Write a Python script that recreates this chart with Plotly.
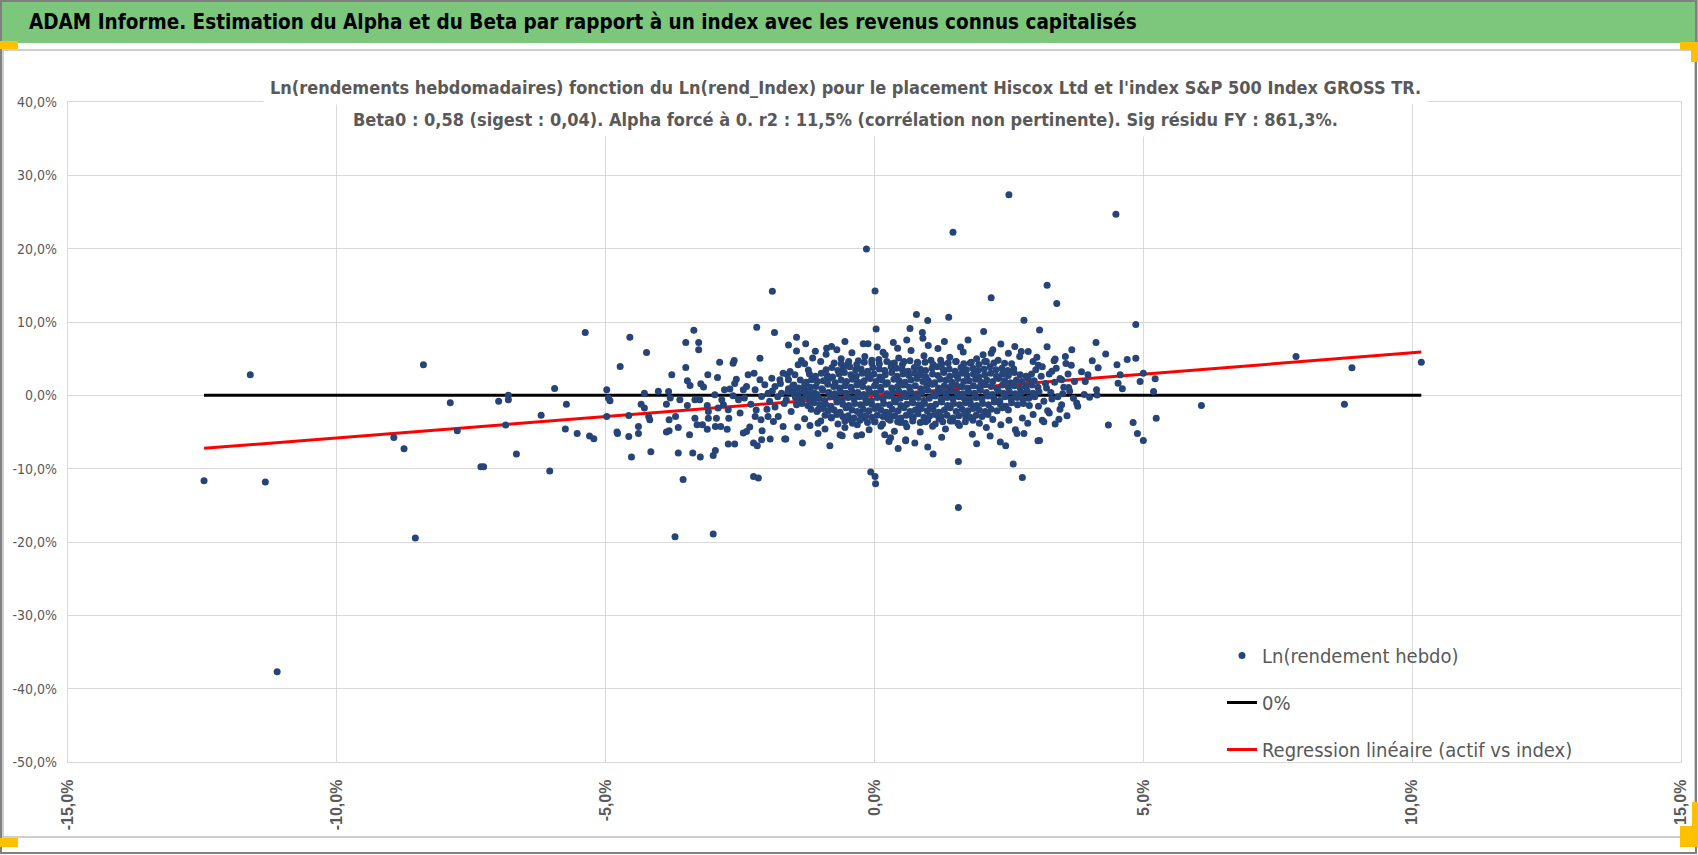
import plotly.graph_objects as go

# Hiscox Ltd vs S&P 500 Index GROSS TR : weekly log returns in %
# isolated points, (index %, asset %)
tail_pts = [
    (-12.47, -11.65), (-11.61, 2.79), (-11.33, -11.83), (-11.11, -37.7),
    (-8.94, -5.75), (-8.75, -7.29), (-8.54, -19.46), (-8.39, 4.16),
    (-7.89, -1.02), (-7.76, -4.84), (-7.32, -9.74), (-7.27, -9.74),
    (-6.99, -0.79), (-6.81, 0.0), (-6.81, -0.6), (-6.86, -4.06), (-6.66, -8.01),
    (-6.2, -2.7), (-6.04, -10.33), (-5.95, 0.93), (-5.73, -1.2), (-5.75, -4.6),
    (-5.53, -5.2), (-5.3, -5.56), (-5.22, -5.93), (-5.38, 8.56),
    (-3.71, -19.28), (-3.0, -18.91), (-3.56, -11.47), (-2.25, -11.06), (-2.16, -11.28),
    (-0.15, 19.96), (0.01, 14.24), (-1.9, 14.2), (1.46, 22.23), (2.5, 27.36), (4.49, 24.69),
    (3.21, 15.01), (3.39, 12.51), (2.17, 13.32), (4.86, 9.65),
    (-0.07, -10.46), (0.01, -11.06), (0.02, -12.06), (1.56, -9.02), (1.56, -15.29),
    (2.58, -9.37), (2.75, -11.2),
    (7.84, 5.29), (6.08, -1.39), (8.88, 3.75), (8.74, -1.2), (10.17, 4.52),
    (5.24, -3.11), (4.81, -3.7), (4.89, -5.2), (5.0, -6.16), (4.35, -4.06),
]

# scattered points around the cloud
mid_pts = [
    (-4.98, 0.75), (-4.95, -0.38), (-4.92, -0.75), (-4.98, -2.89), (-4.73, 3.92),
    (-4.55, 7.93), (-4.79, -5.01), (-4.78, -5.2), (-4.57, -2.75), (-4.57, -5.61),
    (-4.52, -8.42), (-4.39, -4.25), (-4.39, -5.2), (-4.34, -1.2), (-4.28, -1.74),
    (-4.28, 0.3), (-4.24, 5.83), (-4.2, -2.89), (-4.18, -3.34), (-4.16, -7.7),
    (-4.02, 0.57), (-3.87, -1.2), (-3.83, 0.52), (-3.8, -0.38), (-3.82, -3.34),
    (-3.7, -2.89), (-3.65, -4.39), (-3.87, -5.01), (-3.82, -4.84), (-3.65, -7.88),
    (-3.77, 2.79), (-3.51, 7.2), (-3.36, 8.88), (-3.27, 7.2), (-3.27, 6.2),
    (-3.51, 3.79), (-3.48, 1.98), (-3.43, 1.34), (-3.62, -0.61), (-3.48, -1.39),
    (-3.34, -0.61), (-3.44, -5.38), (-3.38, -7.88), (-3.24, -8.42), (-3.34, -3.11),
    (-3.3, -4.02), (-3.2, -4.02), (-3.23, 1.57), (-3.18, 1.12), (-3.1, 2.79),
    (-3.25, -0.61), (-3.11, -1.39), (-3.09, -2.21), (-3.09, -3.11), (-3.11, -4.61),
    (-3.0, -8.2), (-2.96, -7.52), (-2.97, 0.07), (-2.92, 2.43), (-2.88, 4.52),
    (-2.94, -3.11), (-2.96, -4.25), (-2.86, -4.25), (-2.74, -4.61), (-2.71, -3.11),
    (-2.72, -6.65), (-2.6, -6.65), (-2.63, 4.38), (-2.61, 4.74), (-2.57, 2.2),
    (-2.79, 0.75), (-2.69, 0.88), (-2.63, -0.07), (-2.53, -0.61), (-2.42, -0.38),
    (-2.44, 0.75), (-2.38, 1.2), (-2.91, -1.74), (-2.81, -1.29), (-2.72, -1.97),
    (-2.84, -0.61), (-2.35, 2.79), (-2.24, 3.02), (-2.13, 5.07), (-2.19, 9.29),
    (-1.86, 8.56), (-2.44, -5.15), (-2.38, -4.93), (-2.32, -4.33), (-2.25, -6.51),
    (-2.18, -6.88), (-2.1, -6.06), (-1.94, -5.97), (-2.09, -4.84), (-2.22, -2.89),
    (-2.11, -3.34), (-1.98, -2.89), (-1.88, -3.57), (-1.79, -2.89), (-1.7, -4.25),
    (-1.65, -5.97), (-1.43, -4.33), (-1.34, -6.51), (-1.7, 3.02), (-1.6, 6.88),
    (-1.45, 7.93), (-1.45, 6.06), (-1.28, 7.02), (-1.36, 4.74), (-1.57, 3.24),
    (-1.42, 4.16), (-2.22, 0.75), (-2.1, -0.16), (-1.98, 0.3), (-1.85, 1.2),
    (-1.73, 0.3), (-1.64, -0.61), (-1.51, 0.75), (-1.42, -0.16), (-1.3, 0.75),
    (-1.2, -0.61), (-1.11, 0.3), (-1.05, -1.97), (-1.17, 2.11), (-1.23, 3.47),
    (-2.13, 2.11), (-2.04, 1.43), (-1.91, 2.34), (-1.76, 2.11), (-1.6, 2.11),
    (-1.48, 2.79), (-1.05, -3.79), (-1.67, -5.97),
    (0.78, 11.01), (0.99, 10.19), (1.38, 10.65), (2.78, 10.24), (3.07, 8.92),
    (0.03, 9.06), (0.66, 9.1), (0.89, 8.56), (0.9, 7.79), (2.03, 8.7),
    (1.3, 7.33), (1.74, 7.56), (0.6, 7.56), (-0.55, 7.33), (-0.21, 7.02),
    (-0.12, 7.02), (-0.89, 6.43), (-0.8, 6.65), (0.16, 5.88), (0.43, 6.43),
    (2.61, 6.65), (2.73, 5.97), (2.86, 5.97), (2.49, 5.75), (2.42, 4.38),
    (2.17, 5.75), (2.02, 5.52), (1.09, -8.01), (0.99, -7.06), (0.44, -7.24),
    (0.58, -6.2), (2.15, -5.56), (2.34, -6.38), (2.44, -6.88), (2.65, -5.2),
    (2.78, -5.2), (3.04, -6.2), (-0.83, -6.88), (-0.64, -5.38), (-0.33, -5.52),
    (-0.24, -5.38), (4.12, 7.2), (3.67, 6.2), (3.21, 6.61), (4.3, 5.65),
    (4.05, 4.7), (4.16, 3.75), (4.51, 4.16), (4.7, 4.88), (4.86, 5.07),
    (3.56, 4.33), (3.36, 4.97), (3.34, 4.7), (3.97, 2.79), (3.92, 1.88),
    (4.13, 0.75), (4.14, 0.03), (4.0, -0.25), (3.76, -1.06), (4.57, 2.79),
    (4.53, 1.66), (4.61, 0.89), (4.94, 1.88), (5.0, 3.02), (5.19, 0.52),
    (5.22, 2.25), (3.61, 1.07), (3.48, 2.11), (3.43, -3.25), (3.07, -6.16),
    (0.58, -6.06), (0.27, -6.3), (0.19, -5.38),
]

# edge of the dense cloud
halo_pts = [
    (-1.3, 4.3), (-1.15, 5.1), (-1.0, 4.6), (-0.9, 5.6), (-0.75, 4.4), (-0.62, 5.0),
    (-0.5, 4.2), (-0.42, 5.8), (-0.3, 4.7), (-0.18, 5.3), (-0.05, 4.4), (0.08, 4.9),
    (0.2, 5.5), (0.31, 4.3), (0.45, 5.1), (0.55, 4.6), (0.68, 6.1), (0.8, 4.5),
    (0.92, 5.4), (1.05, 4.8), (1.18, 6.4), (1.25, 4.3), (1.4, 5.2), (1.52, 4.6),
    (1.65, 5.9), (1.78, 4.4), (1.9, 5.0), (2.05, 4.6), (2.2, 6.2), (2.3, 4.8),
    (2.55, 4.3), (2.7, 5.3), (2.95, 4.6), (-0.7, 6.2), (0.05, 6.6), (1.0, 6.8),
    (1.6, 6.6), (-1.1, 6.0), (0.35, 7.2), (2.35, 7.0),
    (-1.3, -3.2), (-1.2, -4.1), (-1.0, -3.5), (-0.92, -4.6), (-0.8, -3.1), (-0.68, -3.9),
    (-0.55, -4.4), (-0.45, -3.3), (-0.32, -4.0), (-0.2, -3.1), (-0.1, -4.7), (0.0, -3.6),
    (0.12, -4.2), (0.25, -3.2), (0.37, -4.9), (0.48, -3.7), (0.6, -4.3), (0.72, -3.1),
    (0.85, -5.0), (0.95, -3.6), (1.08, -4.2), (1.2, -3.2), (1.32, -4.6), (1.45, -3.5),
    (1.58, -4.1), (1.7, -3.1), (1.82, -5.3), (1.95, -3.8), (2.08, -4.4), (2.2, -3.3),
    (2.35, -4.0), (2.5, -3.4), (2.62, -4.7), (2.75, -3.1), (-0.6, -5.5), (0.3, -5.8),
    (1.25, -5.7), (-1.05, -5.2), (0.75, -6.5), (1.9, -6.6),
    (3.0, 3.5), (3.1, 2.6), (3.2, 1.0), (3.05, -1.5), (3.3, -0.5), (2.95, -2.6),
    (3.15, -3.6), (3.35, 1.8), (3.05, 4.1), (2.85, -3.8), (3.3, 3.3), (3.5, 0.2),
    (3.45, -1.9), (3.6, 2.9), (3.25, -2.4), (3.7, -0.4),
    (-1.95, -0.8), (-1.85, -1.6), (-1.75, 1.6), (-1.68, -1.1), (-1.6, 0.9), (-1.55, -2.2),
    (-1.5, 1.4), (-1.45, -1.3), (-1.9, 0.6), (-2.0, -1.9), (-1.8, -0.2), (-1.62, 2.8),
    (-2.3, -1.2), (-2.5, -2.4), (-2.6, 1.6), (-2.2, -2.0),
    (3.12, 3.9), (3.25, 2.9), (3.18, 1.6), (3.28, 0.4), (3.15, -0.8), (3.22, -2.1),
    (3.38, 3.7), (3.45, 2.3), (3.52, 1.1), (3.41, -0.2), (3.48, -1.3), (3.58, -2.8),
    (3.66, 4.1), (3.72, 1.9), (3.63, 0.6), (3.78, -1.5), (3.85, 3.2), (3.9, 0.1),
    (3.12, -3.4), (3.36, -3.9), (3.02, 5.2), (3.55, 5.3),
]

# dense core, band by band from top to bottom
core_j_x = [-0.62, -0.48, -0.33, -0.19, -0.05, 0.09, 0.23, 0.37, 0.52, 0.66, 0.80, 0.94, 1.09,
            1.23, 1.37, 1.51, 1.66, 1.80, 1.94, 2.08, 2.22]
core_j_y = [4.3, 4.6, 4.2, 4.5, 4.8, 4.3, 4.6, 4.4, 4.2, 4.7, 4.4, 4.5, 4.2, 4.8, 4.4, 4.6, 4.3,
            4.5, 4.2, 4.6, 4.4]
core_a_x = [-0.90, -0.79, -0.68, -0.58, -0.46, -0.35, -0.25, -0.13, -0.03, 0.09, 0.19, 0.31, 0.41,
            0.52, 0.63, 0.74, 0.85, 0.95, 1.07, 1.17, 1.28, 1.39, 1.50, 1.61, 1.71, 1.83, 1.93,
            2.04, 2.15, 2.26, 2.37, 2.48, 2.59]
core_a_y = [3.5, 3.8, 3.4, 3.7, 3.9, 3.5, 3.6, 3.3, 3.8, 3.6, 3.4, 3.9, 3.7, 3.5, 3.3, 3.8, 3.6,
            3.4, 3.7, 3.9, 3.5, 3.6, 3.3, 3.8, 3.5, 3.7, 3.4, 3.6, 3.9, 3.5, 3.7, 3.4, 3.6]
core_b_x = [-1.21, -1.10, -0.99, -0.88, -0.78, -0.66, -0.56, -0.44, -0.34, -0.23, -0.12, -0.01,
            0.10, 0.20, 0.32, 0.42, 0.53, 0.64, 0.75, 0.86, 0.96, 1.08, 1.18, 1.29, 1.40, 1.51,
            1.62, 1.72, 1.84, 1.94, 2.05, 2.16, 2.27, 2.38, 2.49, 2.60, 2.71, 2.82, 2.92]
core_b_y = [2.9, 2.6, 3.0, 2.7, 2.5, 2.9, 3.1, 2.8, 2.6, 3.0, 2.7, 2.9, 2.5, 2.8, 3.1, 2.6, 2.9,
            2.7, 3.0, 2.8, 2.5, 2.9, 2.7, 3.1, 2.6, 2.8, 3.0, 2.7, 2.9, 2.5, 2.8, 3.0, 2.6, 2.9,
            2.7, 3.1, 2.8, 2.6, 2.9]
core_c_x = [-1.38, -1.27, -1.16, -1.06, -0.95, -0.84, -0.73, -0.62, -0.52, -0.41, -0.30, -0.19,
            -0.08, 0.03, 0.14, 0.24, 0.36, 0.46, 0.57, 0.68, 0.79, 0.90, 1.00, 1.12, 1.22, 1.33,
            1.44, 1.55, 1.66, 1.76, 1.88, 1.98, 2.09, 2.20, 2.31, 2.42, 2.53, 2.64, 2.74, 2.86, 2.97]
core_c_y = [2.1, 1.8, 2.2, 1.9, 2.0, 2.3, 1.7, 2.1, 1.9, 2.2, 1.8, 2.0, 2.3, 1.9, 2.1, 1.7, 2.2,
            2.0, 1.8, 2.1, 2.3, 1.9, 2.0, 1.7, 2.2, 2.1, 1.8, 2.3, 1.9, 2.0, 2.2, 1.8, 2.1, 1.9,
            2.3, 2.0, 1.7, 2.1, 1.9, 2.2, 2.0]
core_d_x = [-1.52, -1.41, -1.30, -1.19, -1.09, -0.98, -0.87, -0.76, -0.65, -0.55, -0.44, -0.33,
            -0.22, -0.11, 0.00, 0.11, 0.21, 0.32, 0.43, 0.54, 0.65, 0.76, 0.86, 0.97, 1.08, 1.19,
            1.30, 1.41, 1.52, 1.62, 1.73, 1.84, 1.95, 2.06, 2.17, 2.28, 2.38, 2.49, 2.60, 2.71,
            2.82, 2.93, 3.04]
core_d_y = [1.3, 1.0, 1.4, 1.1, 1.2, 0.9, 1.5, 1.2, 1.0, 1.3, 1.1, 1.4, 1.2, 0.9, 1.3, 1.1, 1.5,
            1.0, 1.2, 1.4, 1.1, 1.3, 0.9, 1.2, 1.5, 1.0, 1.3, 1.1, 1.4, 1.2, 1.0, 1.3, 1.1, 1.5,
            1.2, 0.9, 1.4, 1.1, 1.3, 1.0, 1.2, 1.4, 1.1]
core_e_x = [-1.61, -1.50, -1.39, -1.28, -1.18, -1.07, -0.96, -0.85, -0.74, -0.63, -0.53, -0.42,
            -0.31, -0.20, -0.09, 0.02, 0.12, 0.23, 0.34, 0.45, 0.56, 0.67, 0.77, 0.88, 0.99, 1.10,
            1.21, 1.32, 1.43, 1.53, 1.64, 1.75, 1.86, 1.97, 2.08, 2.19, 2.30, 2.40, 2.51, 2.62,
            2.73, 2.84, 2.95, 3.06]
core_e_y = [0.5, 0.2, 0.6, 0.3, 0.4, 0.1, 0.7, 0.4, 0.2, 0.5, 0.3, 0.6, 0.4, 0.1, 0.5, 0.3, 0.7,
            0.2, 0.4, 0.6, 0.3, 0.5, 0.1, 0.4, 0.7, 0.2, 0.5, 0.3, 0.6, 0.4, 0.2, 0.5, 0.3, 0.7,
            0.4, 0.1, 0.6, 0.3, 0.5, 0.2, 0.4, 0.6, 0.3, 0.5]
core_f_x = [-1.47, -1.36, -1.25, -1.14, -1.03, -0.93, -0.82, -0.71, -0.60, -0.49, -0.38, -0.28,
            -0.17, -0.06, 0.05, 0.16, 0.27, 0.37, 0.48, 0.59, 0.70, 0.81, 0.92, 1.02, 1.13, 1.24,
            1.35, 1.46, 1.57, 1.67, 1.78, 1.89, 2.00, 2.11, 2.22, 2.33, 2.43, 2.54, 2.65, 2.76,
            2.87, 2.98]
core_f_y = [-0.3, -0.6, -0.2, -0.5, -0.4, -0.7, -0.1, -0.4, -0.6, -0.3, -0.5, -0.2, -0.4, -0.7,
            -0.3, -0.5, -0.1, -0.6, -0.4, -0.2, -0.5, -0.3, -0.7, -0.4, -0.1, -0.6, -0.3, -0.5,
            -0.2, -0.4, -0.6, -0.3, -0.5, -0.1, -0.4, -0.7, -0.2, -0.5, -0.3, -0.6, -0.4, -0.2]
core_g_x = [-1.35, -1.24, -1.13, -1.02, -0.91, -0.81, -0.70, -0.59, -0.48, -0.37, -0.26, -0.16,
            -0.05, 0.06, 0.17, 0.28, 0.39, 0.49, 0.60, 0.71, 0.82, 0.93, 1.04, 1.14, 1.25, 1.36,
            1.47, 1.58, 1.69, 1.79, 1.90, 2.01, 2.12, 2.23, 2.34, 2.44, 2.55, 2.66, 2.77, 2.88]
core_g_y = [-1.1, -1.4, -1.0, -1.3, -1.2, -1.5, -0.9, -1.2, -1.4, -1.1, -1.3, -1.0, -1.2, -1.5,
            -1.1, -1.3, -0.9, -1.4, -1.2, -1.0, -1.3, -1.1, -1.5, -1.2, -0.9, -1.4, -1.1, -1.3,
            -1.0, -1.2, -1.4, -1.1, -1.3, -0.9, -1.2, -1.5, -1.0, -1.3, -1.1, -1.4]
core_h_x = [-1.18, -1.07, -0.96, -0.86, -0.75, -0.64, -0.53, -0.42, -0.32, -0.21, -0.10, 0.01,
            0.12, 0.22, 0.33, 0.44, 0.55, 0.66, 0.76, 0.87, 0.98, 1.09, 1.20, 1.30, 1.41, 1.52,
            1.63, 1.74, 1.84, 1.95, 2.06, 2.17, 2.28, 2.38, 2.49]
core_h_y = [-1.9, -2.2, -1.8, -2.1, -2.0, -2.3, -1.7, -2.0, -2.2, -1.9, -2.1, -1.8, -2.0, -2.3,
            -1.9, -2.1, -1.7, -2.2, -2.0, -1.8, -2.1, -1.9, -2.3, -2.0, -1.7, -2.2, -1.9, -2.1,
            -1.8, -2.0, -2.2, -1.9, -2.1, -1.7, -2.0]
core_i_x = [-0.92, -0.81, -0.70, -0.59, -0.49, -0.38, -0.27, -0.16, -0.05, 0.05, 0.16, 0.27,
            0.38, 0.49, 0.59, 0.70, 0.81, 0.92, 1.03, 1.13, 1.24, 1.35, 1.46, 1.57, 1.68, 1.78,
            1.89, 2.00, 2.11]
core_i_y = [-2.7, -3.0, -2.6, -2.9, -2.8, -3.1, -2.5, -2.8, -3.0, -2.7, -2.9, -2.6, -2.8, -3.1,
            -2.7, -2.9, -2.5, -3.0, -2.8, -2.6, -2.9, -2.7, -3.1, -2.8, -2.5, -3.0, -2.7, -2.9, -2.6]
core_k_x = [-0.55, -0.41, -0.27, -0.13, 0.01, 0.15, 0.29, 0.43, 0.57, 0.71, 0.85, 0.99, 1.13,
            1.27, 1.41, 1.55, 1.69, 1.83]
core_k_y = [-3.5, -3.8, -3.4, -3.7, -3.6, -3.9, -3.4, -3.6, -3.8, -3.5, -3.7, -3.4, -3.9, -3.6,
            -3.5, -3.8, -3.6, -3.4]

beta0 = 0.58  # alpha forced to 0

x_ticks = [-15, -10, -5, 0, 5, 10, 15]
x_tick_labels = ["-15,0%", "-10,0%", "-5,0%", "0,0%", "5,0%", "10,0%", "15,0%"]
y_ticks = [-50, -40, -30, -20, -10, 0, 10, 20, 30, 40]
y_tick_labels = ["-50,0%", "-40,0%", "-30,0%", "-20,0%", "-10,0%", "0,0%",
                 "10,0%", "20,0%", "30,0%", "40,0%"]

# ---- assemble
index_ret = [p[0] for p in tail_pts + mid_pts + halo_pts]
asset_ret = [p[1] for p in tail_pts + mid_pts + halo_pts]
for cx, cy in [(core_j_x, core_j_y), (core_a_x, core_a_y), (core_b_x, core_b_y),
               (core_c_x, core_c_y), (core_d_x, core_d_y), (core_e_x, core_e_y),
               (core_f_x, core_f_y), (core_g_x, core_g_y), (core_h_x, core_h_y),
               (core_i_x, core_i_y), (core_k_x, core_k_y)]:
    n = min(len(cx), len(cy))
    index_ret += cx[:n]
    asset_ret += cy[:n]

line_x = [min(index_ret), max(index_ret)]
reg_y = [beta0 * v for v in line_x]

W, H = 1698, 855
ML, MR, MT, MB = 68, 17, 102, 93
PW, PH = W - ML - MR, H - MT - MB


def px_x(px):
    return (px - ML) / PW


def px_y(py):
    return (H - MB - py) / PH


NARROW = "Liberation Sans Narrow, DejaVu Sans Condensed, Arial Narrow, sans-serif"
GREY = "#595959"
GRID = "#D9D9D9"

fig = go.Figure()
fig.add_trace(go.Scatter(x=line_x, y=[0, 0], mode="lines", name="0%",
                         line=dict(color="black", width=3),
                         legendgroup="b", legendrank=2))
fig.add_trace(go.Scatter(x=line_x, y=reg_y, mode="lines",
                         name="Regression linéaire (actif vs index)",
                         line=dict(color="#FF0000", width=3),
                         legendgroup="c", legendrank=3))
fig.add_trace(go.Scatter(x=index_ret, y=asset_ret, mode="markers",
                         name="Ln(rendement hebdo)",
                         marker=dict(color="#264478", size=7),
                         legendgroup="a", legendrank=1))

shapes = [
    # green header band
    dict(type="rect", xref="paper", yref="paper", x0=px_x(0), x1=px_x(W),
         y0=px_y(43), y1=px_y(0), fillcolor="#7DC77D", line=dict(width=0), layer="below"),
    # chart area frame
    dict(type="rect", xref="paper", yref="paper", x0=px_x(3), x1=px_x(1695),
         y0=px_y(837), y1=px_y(50), line=dict(color="#BFBFBF", width=1.5)),
    # outer frame
    dict(type="rect", xref="paper", yref="paper", x0=px_x(1), x1=px_x(W - 2),
         y0=px_y(H - 2), y1=px_y(1), line=dict(color="#808080", width=2)),
]
# selection handles (orange)
for x0, y0, x1, y1 in [(0, 41, 18, 49), (1680, 42, 1698, 50), (1691, 42, 1698, 62),
                       (0, 838, 18, 847), (1680, 826, 1698, 847), (1692, 802, 1698, 847)]:
    shapes.append(dict(type="rect", xref="paper", yref="paper",
                       x0=px_x(x0), x1=px_x(x1), y0=px_y(y1), y1=px_y(y0),
                       fillcolor="#FFC000", line=dict(width=0)))

sub_font = dict(family=NARROW, size=18, color=GREY, weight="bold")

fig.update_layout(
    width=W, height=H,
    margin=dict(l=ML, r=MR, t=MT, b=MB, autoexpand=False),
    paper_bgcolor="white", plot_bgcolor="white",
    shapes=shapes,
    showlegend=True,
    legend=dict(x=px_x(1222), y=px_y(636), xanchor="left", yanchor="top",
                bgcolor="rgba(0,0,0,0)", traceorder="grouped", tracegroupgap=18,
                font=dict(family=NARROW, size=20, color=GREY)),
    annotations=[
        dict(text="ADAM Informe. Estimation du Alpha et du Beta par rapport à un index avec les revenus connus capitalisés",
             xref="paper", yref="paper", x=px_x(27), y=px_y(22), xanchor="left", yanchor="middle",
             showarrow=False, font=dict(family=NARROW, size=20.5, color="black", weight="bold")),
        dict(text="Ln(rendements hebdomadaires) fonction du Ln(rend_Index) pour le placement Hiscox Ltd et l'index S&amp;P 500 Index GROSS TR.",
             xref="paper", yref="paper", x=px_x(845), y=px_y(87), xanchor="center", yanchor="middle",
             showarrow=False, bgcolor="white", borderpad=6, font=sub_font),
        dict(text="Beta0 : 0,58 (sigest : 0,04). Alpha forcé à 0. r2 : 11,5% (corrélation non pertinente). Sig résidu FY : 861,3%.",
             xref="paper", yref="paper", x=px_x(845), y=px_y(119), xanchor="center", yanchor="middle",
             showarrow=False, bgcolor="white", borderpad=6, font=sub_font),
    ],
)

fig.update_xaxes(range=[-15, 15], tickvals=x_ticks, ticktext=x_tick_labels, tickangle=-90,
                 tickfont=dict(family="Liberation Sans, Arial, sans-serif", size=16, color=GREY,
                               weight="bold"),
                 showgrid=True, gridcolor=GRID, gridwidth=1.3, zeroline=False,
                 showline=True, linecolor=GRID, linewidth=1.3, mirror=True,
                 ticks="", ticklabelstandoff=10, automargin=False)
fig.update_yaxes(range=[-50, 40], tickvals=y_ticks, ticktext=y_tick_labels,
                 tickfont=dict(family="DejaVu Sans Condensed, sans-serif", size=14, color=GREY),
                 showgrid=True, gridcolor=GRID, gridwidth=1.3, zeroline=False,
                 showline=True, linecolor=GRID, linewidth=1.3, mirror=True,
                 ticks="", ticklabelstandoff=7, automargin=False)

fig.write_html("out.html", config={"displayModeBar": False},
               post_script="document.body.style.margin='0px';"
                           "document.body.style.overflow='hidden';")
